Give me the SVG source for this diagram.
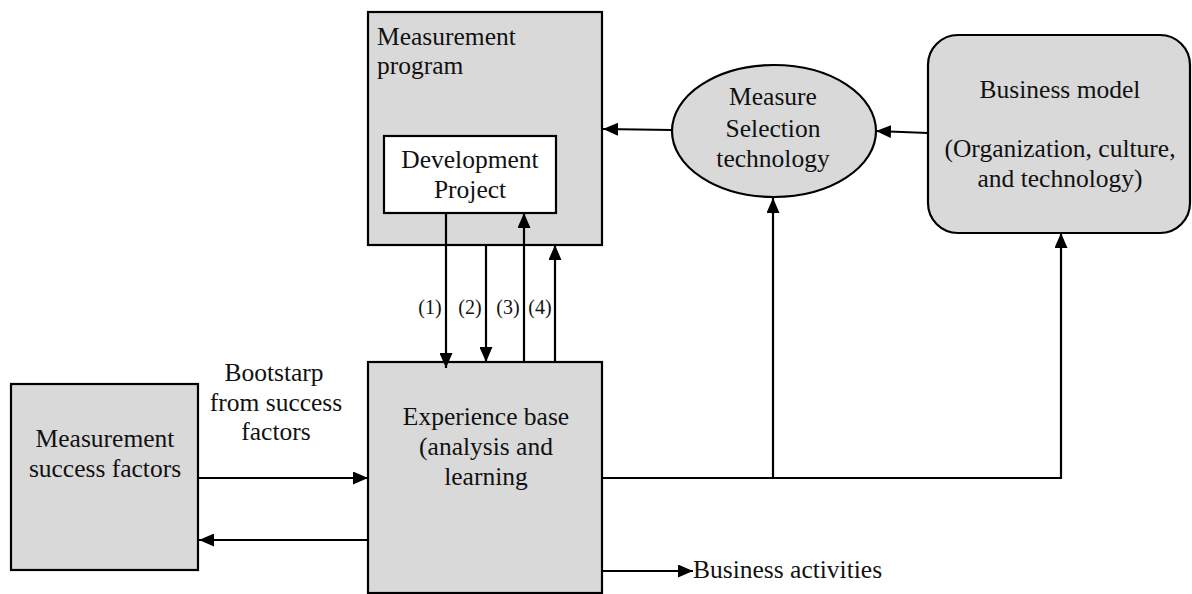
<svg xmlns="http://www.w3.org/2000/svg" width="1192" height="594" viewBox="0 0 1192 594">
<defs>
<style>
.box{fill:#d9d9d9;stroke:#000;stroke-width:2.2}
.wbox{fill:#fff;stroke:#000;stroke-width:2.2}
.t{font-family:"Liberation Serif","Times New Roman",serif;font-size:25.5px;fill:#111}
.c{text-anchor:middle}
.s{font-size:20px}
.ln{fill:none;stroke:#000;stroke-width:2.2}
.ar{fill:none;stroke:#000;stroke-width:2.2;marker-end:url(#ah)}
</style>
<marker id="ah" markerUnits="userSpaceOnUse" markerWidth="15" markerHeight="13" viewBox="0 0 15 13" refX="15" refY="6.5" orient="auto">
<path d="M0,0 L15,6.5 L0,13 z" fill="#000"/>
</marker>
</defs>
<rect width="1192" height="594" fill="#fff"/>

<g id="measurement-program">
<rect class="box" x="368" y="12" width="234" height="233"/>
<text class="t" x="377" y="45">Measurement</text>
<text class="t" x="377" y="74">program</text>
</g>

<g id="development-project">
<rect class="wbox" x="384" y="136" width="172" height="77"/>
<text class="t c" x="470" y="168">Development</text>
<text class="t c" x="470" y="198">Project</text>
</g>

<g id="measure-selection">
<ellipse class="box" cx="774" cy="131" rx="102" ry="66"/>
<text class="t c" x="773" y="105">Measure</text>
<text class="t c" x="773" y="137">Selection</text>
<text class="t c" x="773" y="167">technology</text>
</g>

<g id="business-model">
<rect class="box" x="928" y="35" width="262" height="198" rx="30" ry="30"/>
<text class="t c" x="1060" y="98">Business model</text>
<text class="t c" x="1060" y="157">(Organization, culture,</text>
<text class="t c" x="1060" y="187">and technology)</text>
</g>

<g id="experience-base">
<rect class="box" x="368" y="362" width="234" height="231"/>
<text class="t c" x="486" y="425">Experience base</text>
<text class="t c" x="486" y="455">(analysis and</text>
<text class="t c" x="486" y="485">learning</text>
</g>

<g id="success-factors">
<rect class="box" x="11" y="384" width="187" height="186"/>
<text class="t c" x="105" y="447">Measurement</text>
<text class="t c" x="105" y="477">success factors</text>
</g>

<g id="connectors">
<line class="ar" x1="446" y1="213" x2="446" y2="368"/>
<line class="ar" x1="486" y1="245" x2="486" y2="362"/>
<line class="ar" x1="524" y1="362" x2="524" y2="213"/>
<line class="ar" x1="555" y1="362" x2="555" y2="245"/>
<line class="ar" x1="672" y1="130" x2="603" y2="129"/>
<line class="ar" x1="928" y1="133" x2="876" y2="131"/>
<line class="ln" x1="602" y1="478" x2="1061" y2="478"/>
<line class="ar" x1="773" y1="478" x2="773" y2="198"/>
<line class="ar" x1="1061" y1="479" x2="1061" y2="233"/>
<line class="ar" x1="198" y1="478" x2="368" y2="478"/>
<line class="ar" x1="368" y1="540" x2="199" y2="540"/>
<line class="ar" x1="602" y1="571" x2="693" y2="571"/>
<text class="t s c" x="430" y="314">(1)</text>
<text class="t s c" x="470" y="314">(2)</text>
<text class="t s c" x="508" y="314">(3)</text>
<text class="t s c" x="540" y="314">(4)</text>
<text class="t c" x="274" y="381">Bootstarp</text>
<text class="t c" x="276" y="411">from success</text>
<text class="t c" x="276" y="440">factors</text>
<text class="t" x="693" y="578">Business activities</text>
</g>
</svg>
